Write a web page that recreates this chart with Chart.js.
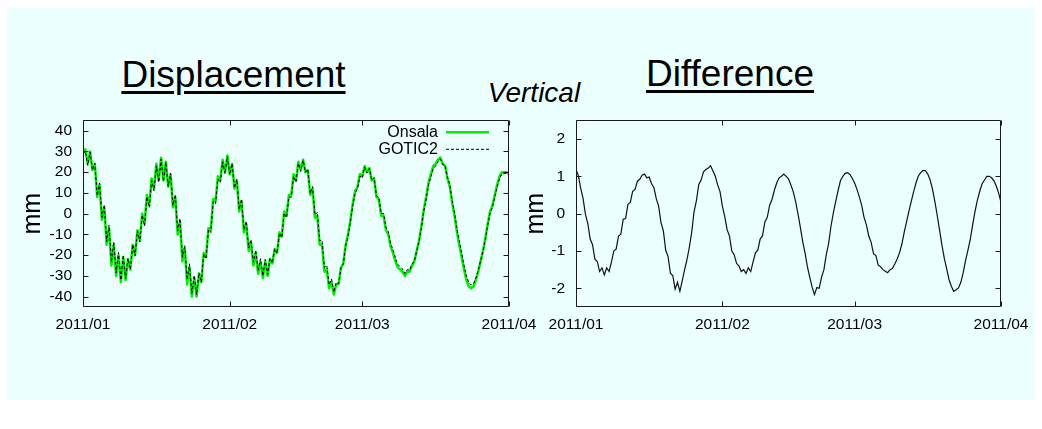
<!DOCTYPE html>
<html>
<head>
<meta charset="utf-8">
<script src="https://cdn.jsdelivr.net/npm/chart.js@4.4.1/dist/chart.umd.min.js"></script>
<style>
  body { margin: 0; background: #fff; font-family: "Liberation Sans", Arial, sans-serif; }
  #panel { position: absolute; left: 7px; top: 8px; width: 1028px; height: 392px; background: #ebffff; }
  .title { position: absolute; font-size: 37px; line-height: 37px; text-align: center; color: #000;
           text-decoration: underline; text-decoration-thickness: 3px; text-underline-offset: 4px; }
  #vert { position: absolute; font-size: 28px; line-height: 28px; font-style: italic; text-align: center; color: #000; }
  canvas { position: absolute; }
</style>
</head>
<body>
<div id="panel"></div>
<div class="title" style="left:0px;width:467px;top:56px">Displacement</div>
<div class="title" style="left:530px;width:400px;top:55px">Difference</div>
<div id="vert" style="left:434px;width:200px;top:79px">Vertical</div>
<canvas id="dispChart" width="545" height="250" style="left:0px;top:100px"></canvas>
<canvas id="diffChart" width="522" height="250" style="left:520px;top:100px"></canvas>
<script>
// samples every half day from 2011/01/01
const sampleStepDays = 0.5;
const monthDays = [0, 31, 59, 90];
const monthLabels = ['2011/01', '2011/02', '2011/03', '2011/04'];
const dispTicks = [-40, -30, -20, -10, 0, 10, 20, 30, 40];
const diffTicks = [-2, -1, 0, 1, 2];

// vertical displacement, mm
const onsala = [
  30, 31, 24, 30, 21, 24, 8, 14, -3, 3,
  -15, -7, -25, -15, -30, -20, -33, -21, -32, -22,
  -27, -15, -20, -8, -13, 0, -5, 9, 4, 17,
  12, 24, 16, 27, 16, 25, 13, 19, 3, 8,
  -10, -4, -23, -17, -34, -26, -40, -31, -40, -29,
  -33, -19, -21, -7, -8, 7, 6, 18, 16, 26,
  20, 28, 19, 24, 12, 16, 1, 6, -9, -5,
  -18, -14, -25, -19, -29, -23, -31, -23, -30, -22,
  -24, -17, -19, -9, -11, 1, -1, 9, 9, 19,
  16, 25, 21, 26, 20, 21, 9, 12, -2, -1,
  -15, -15, -28, -27, -36, -33, -39, -34, -34, -26,
  -24, -15, -10, -3, 5, 11, 13, 19, 18, 23,
  20, 22, 16, 17, 8, 7, -1, -1, -8, -10,
  -16, -19, -23, -26, -27, -28, -30, -28, -28, -25,
  -23, -18, -13, -6, 2, 8, 15, 19, 23, 24,
  26, 27, 24, 23, 17, 13, 5, -1, -9, -15,
  -21, -27, -32, -35, -36, -35, -32, -28, -23, -18,
  -12, -5, 1, 4, 9, 14, 18, 20, 20, 20,
  19
];

const gotic2 = [
  28.8, 30.0, 23.3, 29.6, 21.0, 24.3, 8.7, 14.8, -1.8, 4.3,
  -13.5, -5.6, -23.4, -13.6, -28.5, -18.7, -32.0, -20.1, -31.4, -21.5,
  -26.9, -14.9, -20.3, -8.3, -13.6, -0.7, -5.9, 8.1, 3.0, 15.9,
  11.0, 23.0, 15.2, 26.3, 15.6, 24.8, 13.2, 19.5, 4.0, 9.2,
  -8.4, -2.3, -21.0, -15.2, -31.9, -24.2, -38.5, -29.8, -39.1, -28.5,
  -33.1, -19.4, -21.8, -7.9, -9.1, 5.8, 4.8, 16.7, 14.9, 25.0,
  19.2, 27.4, 18.8, 24.1, 12.4, 16.6, 2.0, 7.1, -7.7, -3.6,
  -16.5, -12.5, -23.4, -17.6, -27.5, -21.7, -30.0, -22.0, -29.3, -21.4,
  -23.8, -16.9, -19.2, -9.4, -11.6, 0.2, -2.0, 8.0, 7.9, 18.0,
  15.1, 24.2, 20.4, 25.7, 20.0, 21.4, 9.7, 13.1, -0.6, 0.7,
  -13.0, -12.8, -26.0, -25.0, -34.3, -31.5, -37.9, -33.2, -33.7, -26.0,
  -24.3, -15.6, -10.9, -4.0, 3.9, 9.9, 12.0, 18.1, 17.2, 22.4,
  19.6, 21.8, 16.1, 17.3, 8.6, 7.8, 0.1, 0.1, -6.6, -8.6,
  -14.5, -17.5, -21.4, -24.5, -25.5, -26.7, -28.8, -27.0, -27.2, -24.5,
  -22.8, -18.1, -13.3, -6.6, 1.2, 7.0, 13.9, 17.8, 21.9, 22.9,
  25.1, 26.4, 23.7, 23.1, 17.5, 13.9, 6.2, 0.5, -7.2, -13.1,
  -18.9, -25.0, -30.0, -33.2, -34.4, -33.8, -31.0, -27.3, -22.7, -18.1,
  -12.4, -5.6, 0.2, 3.1, 8.0, 13.0, 17.0, 19.1, 19.3, 19.5,
  18.7
];

// Onsala - GOTIC2, mm
const difference = [
  1.18, 1.02, 0.68, 0.40, -0.02, -0.26, -0.68, -0.83, -1.22, -1.28,
  -1.55, -1.45, -1.64, -1.45, -1.55, -1.30, -1.00, -0.95, -0.60, -0.55,
  -0.15, -0.13, 0.25, 0.30, 0.60, 0.65, 0.87, 0.92, 1.03, 1.06,
  0.96, 0.98, 0.80, 0.70, 0.40, 0.20, -0.24, -0.46, -0.98, -1.15,
  -1.60, -1.66, -2.02, -1.84, -2.08, -1.80, -1.50, -1.23, -0.90, -0.50,
  0.05, 0.35, 0.78, 0.90, 1.12, 1.18, 1.22, 1.28, 1.14, 1.00,
  0.77, 0.59, 0.20, -0.08, -0.43, -0.60, -1.00, -1.10, -1.33, -1.40,
  -1.55, -1.50, -1.60, -1.45, -1.55, -1.29, -1.05, -0.98, -0.68, -0.59,
  -0.22, -0.10, 0.22, 0.38, 0.62, 0.82, 0.96, 1.00, 1.06, 1.00,
  0.93, 0.77, 0.59, 0.33, 0.00, -0.36, -0.74, -1.05, -1.42, -1.70,
  -1.97, -2.17, -1.98, -2.00, -1.70, -1.50, -1.10, -0.80, -0.33, 0.02,
  0.33, 0.62, 0.88, 1.00, 1.08, 1.10, 1.05, 0.95, 0.82, 0.65,
  0.45, 0.22, -0.10, -0.30, -0.60, -0.77, -1.07, -1.12, -1.38, -1.42,
  -1.50, -1.54, -1.58, -1.50, -1.47, -1.35, -1.22, -1.05, -0.82, -0.50,
  -0.22, 0.07, 0.33, 0.59, 0.82, 1.01, 1.10, 1.16, 1.15, 1.06,
  0.90, 0.65, 0.32, -0.05, -0.45, -0.85, -1.20, -1.48, -1.77, -1.95,
  -2.08, -2.04, -1.99, -1.84, -1.58, -1.25, -0.98, -0.68, -0.30, 0.06,
  0.36, 0.60, 0.80, 0.90, 1.00, 1.00, 0.96, 0.88, 0.74, 0.55,
  0.30
];

function toPoints(values) {
  return values.map((v, i) => ({ x: i * sampleStepDays, y: v }));
}

const tickFont = { family: '"Liberation Sans", Arial, sans-serif', size: 15.5 };

// gnuplot style box with inward tick marks
const frameTicks = {
  id: 'frameTicks',
  afterDatasetsDraw(chart) {
    const { ctx, chartArea: a, scales } = chart;
    const L = Math.round(a.left) + 0.5, R = Math.round(a.right) - 0.5;
    const T = Math.round(a.top) + 0.5, B = Math.round(a.bottom) - 0.5;
    ctx.save();
    ctx.strokeStyle = '#1a1a1a';
    ctx.lineWidth = 1;
    ctx.setLineDash([]);
    ctx.beginPath();
    scales.x.ticks.forEach(t => {
      const px = Math.round(scales.x.getPixelForValue(t.value)) + 0.5;
      ctx.moveTo(px, T); ctx.lineTo(px, T + 5);
      ctx.moveTo(px, B); ctx.lineTo(px, B - 5);
    });
    scales.y.ticks.forEach(t => {
      const py = Math.round(scales.y.getPixelForValue(t.value)) + 0.5;
      ctx.moveTo(L, py); ctx.lineTo(L + 5, py);
      ctx.moveTo(R, py); ctx.lineTo(R - 5, py);
    });
    ctx.rect(L, T, R - L, B - T);
    ctx.stroke();
    ctx.restore();
  }
};

// put the key in the top right corner of the plot box
const keyInBox = {
  id: 'keyInBox',
  afterLayout(chart) {
    const lg = chart.legend;
    if (!lg || !lg.options.display) return;
    const a = chart.chartArea;
    const pad = lg.options.labels.padding;
    lg.left = a.right - 20 + pad - lg.width;
    lg.right = lg.left + lg.width;
    lg.top = a.top + 3;
    lg.bottom = a.bottom;
  }
};

// line samples in the key take width and dash from the dataset
function keyLabels(chart) {
  const items = Chart.defaults.plugins.legend.labels.generateLabels(chart);
  items.forEach(it => {
    const ds = chart.data.datasets[it.datasetIndex];
    it.strokeStyle = ds.borderColor;
    it.lineWidth = ds.borderWidth;
    it.lineDash = ds.borderDash || [];
  });
  return items;
}

function xAxis() {
  return {
    type: 'linear',
    min: 0,
    max: 90,
    afterBuildTicks: (scale) => { scale.ticks = monthDays.map(d => ({ value: d })); },
    afterFit: (scale) => { scale.height = 43; },
    grid: { display: false, drawTicks: false },
    border: { display: false },
    ticks: {
      autoSkip: false,
      maxRotation: 0,
      padding: 8,
      color: '#000',
      font: tickFont,
      callback: (v) => monthLabels[monthDays.indexOf(v)]
    }
  };
}

function yAxis(min, max, tickValues, width, titlePad) {
  return {
    type: 'linear',
    min: min,
    max: max,
    afterBuildTicks: (scale) => { scale.ticks = tickValues.map(v => ({ value: v })); },
    afterFit: (scale) => { scale.width = width; },
    grid: { display: false, drawTicks: false },
    border: { display: false },
    title: {
      display: true,
      text: 'mm',
      color: '#000',
      font: { family: '"Liberation Sans", Arial, sans-serif', size: 25 },
      padding: { top: titlePad, bottom: 0 }
    },
    ticks: { autoSkip: false, padding: 11, color: '#000', font: tickFont }
  };
}

new Chart(document.getElementById('dispChart'), {
  type: 'line',
  data: {
    datasets: [
      {
        label: 'Onsala',
        data: toPoints(onsala),
        borderColor: '#00ee00',
        borderWidth: 2.5,
        borderJoinStyle: 'round',
        pointRadius: 0,
        tension: 0,
        order: 2
      },
      {
        label: 'GOTIC2',
        data: toPoints(gotic2),
        borderColor: '#000',
        borderWidth: 1,
        borderDash: [3, 2],
        pointRadius: 0,
        tension: 0,
        order: 1
      }
    ]
  },
  options: {
    responsive: false,
    animation: false,
    devicePixelRatio: 1,
    layout: { padding: { top: 18, right: 36, left: 0, bottom: 0 } },
    scales: { x: xAxis(), y: yAxis(-45, 45, dispTicks, 83, 18) },
    plugins: {
      tooltip: { enabled: false },
      legend: {
        position: 'chartArea',
        align: 'start',
        reverse: true,
        rtl: true,
        textDirection: 'ltr',
        labels: {
          usePointStyle: true,
          pointStyle: 'line',
          pointStyleWidth: 43,
          boxWidth: 43,
          padding: 1,
          color: '#000',
          font: { family: '"Liberation Sans", Arial, sans-serif', size: 16 },
          generateLabels: keyLabels
        }
      }
    }
  },
  plugins: [frameTicks, keyInBox]
});

new Chart(document.getElementById('diffChart'), {
  type: 'line',
  data: {
    datasets: [
      {
        label: 'Difference',
        data: toPoints(difference),
        borderColor: '#111',
        borderWidth: 1.2,
        pointRadius: 0,
        tension: 0
      }
    ]
  },
  options: {
    responsive: false,
    animation: false,
    devicePixelRatio: 1,
    layout: { padding: { top: 18, right: 41, left: 0, bottom: 0 } },
    scales: { x: xAxis(), y: yAxis(-2.5, 2.5, diffTicks, 56, 1) },
    plugins: {
      tooltip: { enabled: false },
      legend: { display: false }
    }
  },
  plugins: [frameTicks]
});
</script>
</body>
</html>
